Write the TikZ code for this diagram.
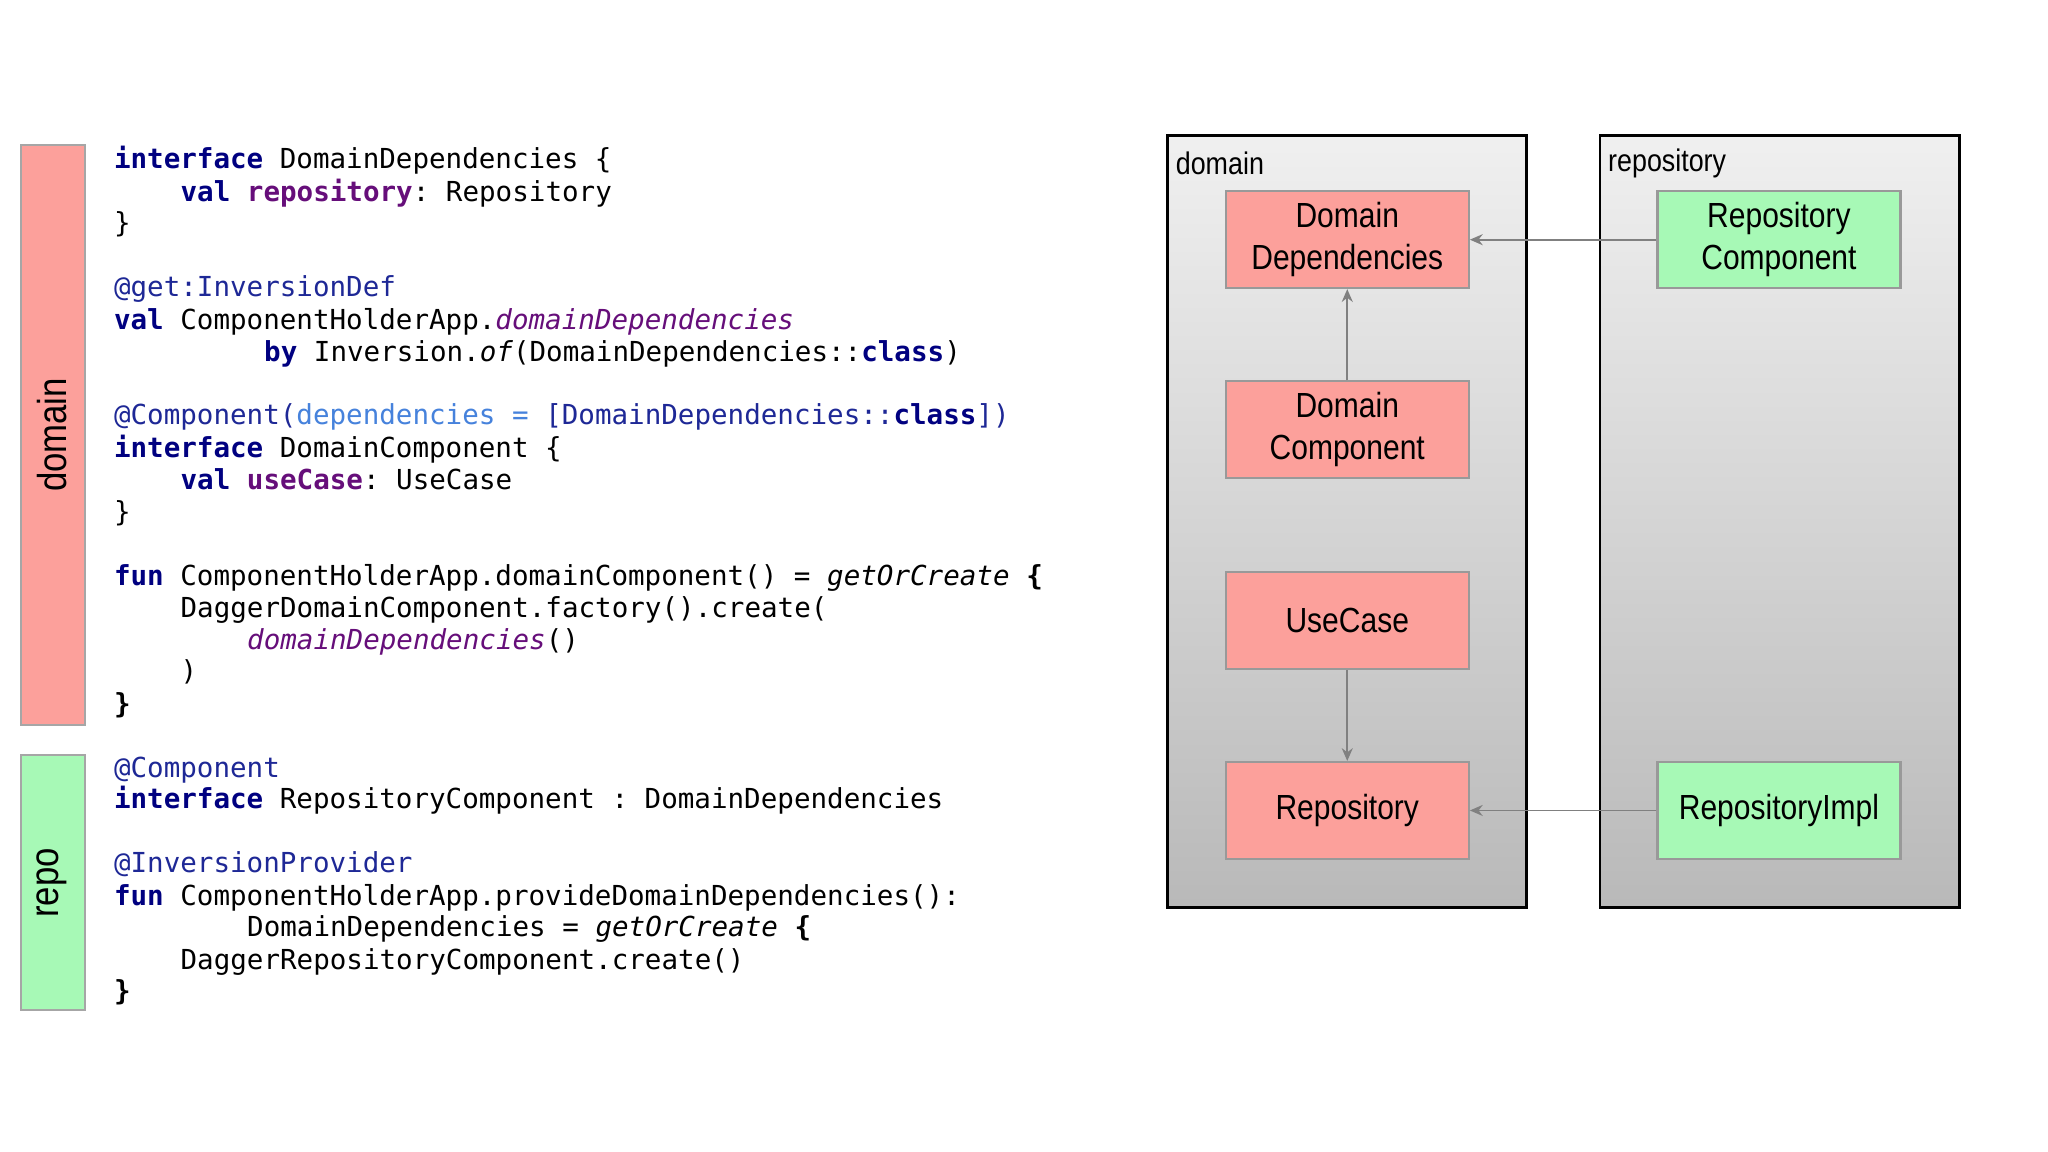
\documentclass[tikz,border=0pt]{standalone}
\usepackage{fontspec}
\setmainfont{Liberation Sans}[FakeStretch=0.86]
\setmonofont{DejaVu Sans Mono}
\definecolor{kw}{RGB}{0,0,128}
\definecolor{pu}{RGB}{102,14,122}
\definecolor{an}{RGB}{30,40,150}
\definecolor{pa}{RGB}{70,130,220}
\definecolor{sal}{RGB}{252,160,155}
\definecolor{grn}{RGB}{167,249,182}
\newcommand{\kwd}[1]{\textcolor{kw}{\bfseries #1}}
\newcommand{\prp}[1]{\textcolor{pu}{\bfseries #1}}
\newcommand{\itp}[1]{\textcolor{pu}{\itshape #1}}
\newcommand{\ann}[1]{\textcolor{an}{#1}}
\usetikzlibrary{arrows.meta}
\begin{document}
\begin{tikzpicture}[x=0.025cm,y=-0.025cm,
  code/.style={anchor=base west,inner sep=0pt,font=\ttfamily\fontsize{15}{17}\selectfont},
  box/.style={draw=gray!80,line width=1.2pt,minimum width=4.65cm,minimum height=1.85cm,align=center,inner sep=0pt,font=\fontsize{19}{23}\selectfont},
  panel/.style={draw=black,line width=1.5pt,top color=gray!12,bottom color=gray!55},
  bar/.style={draw=gray!70,line width=1.2pt},
  arr/.style={draw=gray,line width=1pt,-{Stealth[length=7pt,width=6pt]}},
  lbl/.style={anchor=west,inner sep=0pt,font=\fontsize{17}{20}\selectfont}]
\useasboundingbox[fill=white] (0,0) rectangle (1568,882);
% left bars
\draw[bar,fill=sal] (16,111) rectangle (65,555);
\draw[bar,fill=grn] (16,578) rectangle (65,773);
\node[rotate=90,font=\fontsize{22}{26}\selectfont,inner sep=0pt] (ld) at (40,333) {domain};
\node[rotate=90,font=\fontsize{22}{26}\selectfont,inner sep=0pt] (lr) at (40,676) {repo};
% code
\node[code] (c1) at (87,129) {\kwd{interface} DomainDependencies \{};
\node[code] (c2) at (138,154) {\kwd{val} \prp{repository}: Repository};
\node[code] (c3) at (87,178) {\}};
\node[code] (c4) at (87,227) {\ann{@get:InversionDef}};
\node[code] (c5) at (87,252) {\kwd{val} ComponentHolderApp.\itp{domainDependencies}};
\node[code] (c6) at (202,277) {\kwd{by} Inversion.{\itshape of}(DomainDependencies::\kwd{class})};
\node[code] (c7) at (87,325) {\ann{@Component(}\textcolor{pa}{dependencies = }\ann{[DomainDependencies::}\kwd{class}\ann{])}};
\node[code] (c8) at (87,350) {\kwd{interface} DomainComponent \{};
\node[code] (c9) at (138,375) {\kwd{val} \prp{useCase}: UseCase};
\node[code] (c10) at (87,399) {\}};
\node[code] (c11) at (87,448) {\kwd{fun} ComponentHolderApp.domainComponent() = {\itshape getOrCreate} {\bfseries\{}};
\node[code] (c12) at (138,473) {DaggerDomainComponent.factory().create(};
\node[code] (c13) at (189,497) {\itp{domainDependencies}()};
\node[code] (c14) at (138,521) {)};
\node[code] (c15) at (87,546) {{\bfseries\}}};
\node[code] (c16) at (87,595) {\ann{@Component}};
\node[code] (c17) at (87,619) {\kwd{interface} RepositoryComponent : DomainDependencies};
\node[code] (c18) at (87,668) {\ann{@InversionProvider}};
\node[code] (c19) at (87,693) {\kwd{fun} ComponentHolderApp.provideDomainDependencies():};
\node[code] (c20) at (189,717) {DomainDependencies = {\itshape getOrCreate} {\bfseries\{}};
\node[code] (c21) at (138,742) {DaggerRepositoryComponent.create()};
\node[code] (c22) at (87,766) {{\bfseries\}}};
% panels
\draw[panel] (894,104) rectangle (1169,695);
\draw[panel] (1225,104) rectangle (1500,695);
\node[lbl] (pd) at (900,125) {domain};
\node[lbl] (pr) at (1231,125) {repository};
% boxes
\node[box,fill=sal] (dd) at (1031.5,183.5) {Domain\\Dependencies};
\node[box,fill=sal] (dc) at (1031.5,329) {Domain\\Component};
\node[box,fill=sal] (uc) at (1031.5,475) {UseCase};
\node[box,fill=sal] (rp) at (1031.5,620.5) {Repository};
\node[box,fill=grn] (rc) at (1362,183.5) {Repository\\Component};
\node[box,fill=grn] (ri) at (1362,620.5) {RepositoryImpl};
\draw[arr] (rc) -- (dd);
\draw[arr] (dc) -- (dd);
\draw[arr] (uc) -- (rp);
\draw[arr] (ri) -- (rp);
\end{tikzpicture}
\end{document}
